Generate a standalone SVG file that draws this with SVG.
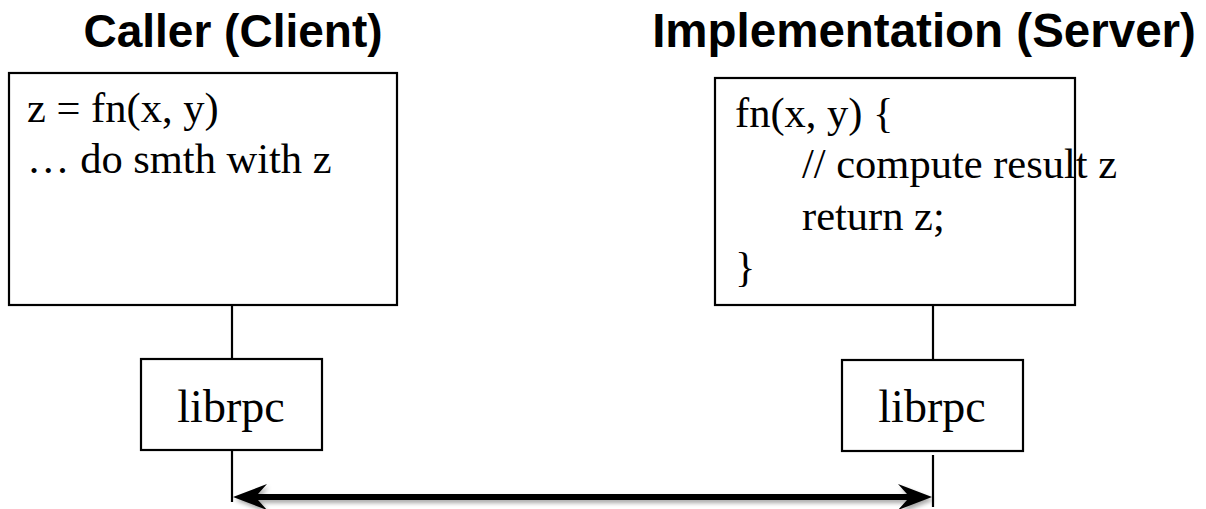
<svg xmlns="http://www.w3.org/2000/svg" width="1206" height="509" viewBox="0 0 1206 509">
<style>
.box{fill:#fff;stroke:#000;stroke-width:2.2}
.title{font-family:"Liberation Sans",Arial,sans-serif;font-weight:bold;font-size:46px;fill:#000;text-anchor:middle}
.code{font-family:"Liberation Serif","Times New Roman",serif;font-size:42.5px;fill:#000}
.lib{font-family:"Liberation Serif","Times New Roman",serif;font-size:46px;fill:#000;text-anchor:middle}
.thin{stroke:#000;stroke-width:2.2;fill:none}
</style>
<defs>
<filter id="sh" filterUnits="userSpaceOnUse" x="200" y="470" width="770" height="45">
<feGaussianBlur in="SourceAlpha" stdDeviation="2"/>
<feOffset dx="2" dy="3" result="b"/>
<feComponentTransfer><feFuncA type="linear" slope="0.35"/></feComponentTransfer>
<feMerge><feMergeNode/><feMergeNode in="SourceGraphic"/></feMerge>
</filter>
</defs>
<text class="title" x="233" y="47">Caller (Client)</text>
<text class="title" x="924" y="47" style="font-size:47.5px">Implementation (Server)</text>
<g id="caller">
<rect class="box" x="9" y="73" width="388" height="232"/>
<text class="code" x="27" y="122">z = fn(x, y)</text>
<text class="code" x="27" y="173">… do smth with z</text>
</g>
<g id="server">
<rect class="box" x="715" y="78" width="360" height="227"/>
<text class="code" x="735" y="127">fn(x, y) {</text>
<text class="code" x="802" y="178">// compute result z</text>
<text class="code" x="802" y="230">return z;</text>
<text class="code" x="735" y="281">}</text>
</g>
<g id="librpc-client">
<rect class="box" x="141" y="359" width="181" height="91"/>
<text class="lib" x="231" y="422">librpc</text>
</g>
<g id="librpc-server">
<rect class="box" x="842" y="360" width="181" height="91"/>
<text class="lib" x="932" y="422">librpc</text>
</g>
<g id="connectors">
<line class="thin" x1="232" y1="305" x2="232" y2="359"/>
<line class="thin" x1="232" y1="450" x2="232" y2="502"/>
<line class="thin" x1="933" y1="305" x2="933" y2="360"/>
<line class="thin" x1="933" y1="455" x2="933" y2="507"/>
<path d="M233,497 L267,484 L258,494 L907,494 L898,484 L932,497 L898,510 L907,500 L258,500 L267,510 Z" fill="#000" filter="url(#sh)"/>
</g>
</svg>
